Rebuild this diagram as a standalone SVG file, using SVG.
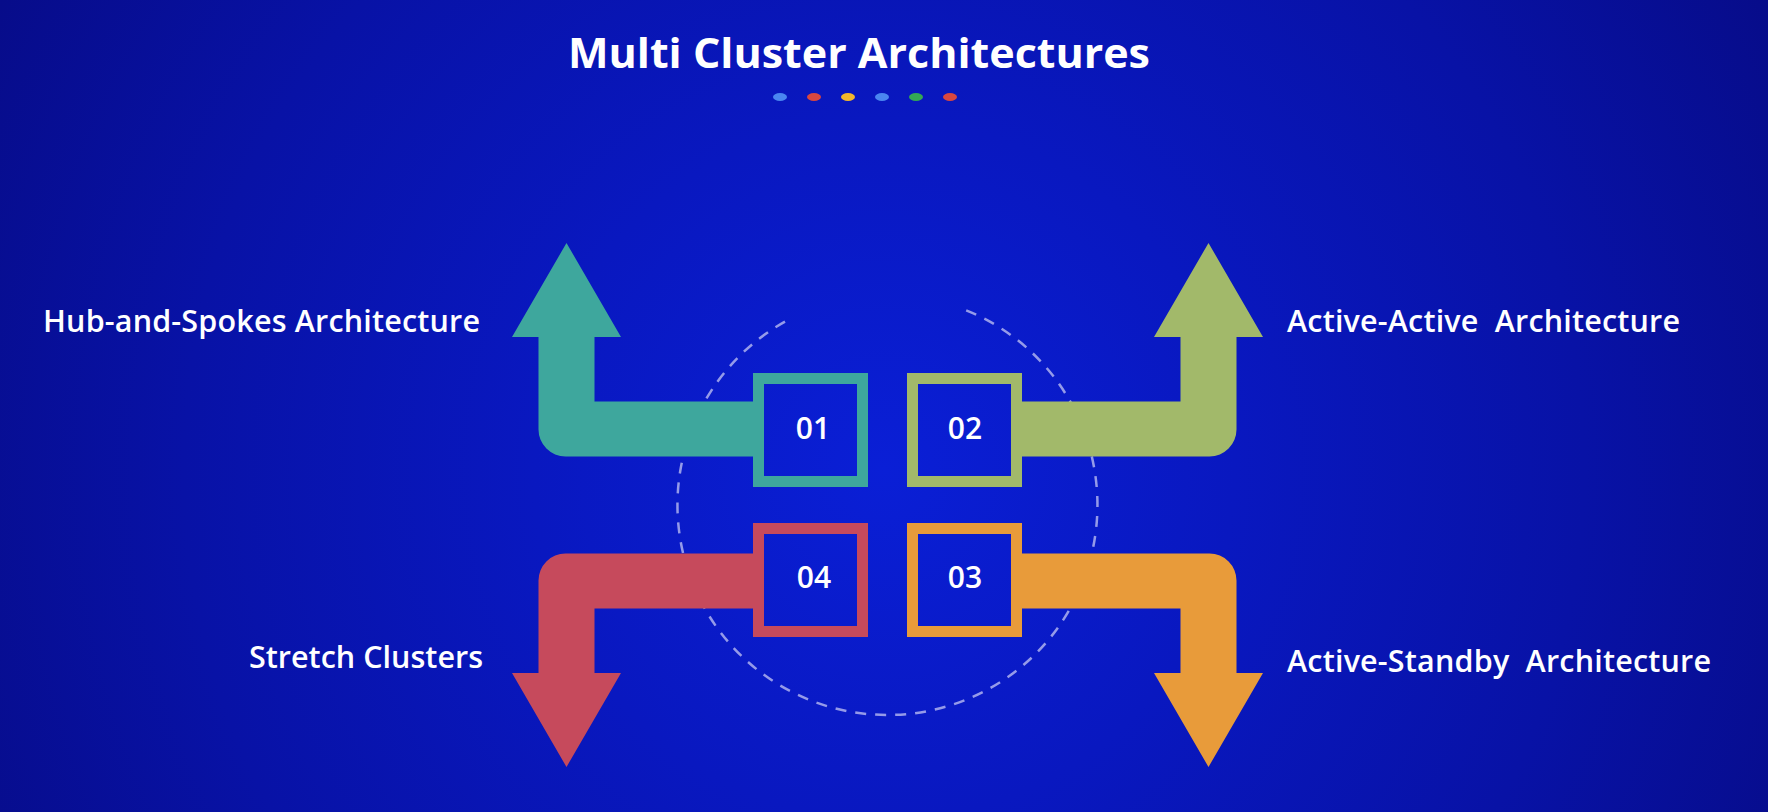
<svg xmlns="http://www.w3.org/2000/svg" width="1768" height="812" viewBox="0 0 1768 812">
  <defs>
    <radialGradient id="bg" gradientUnits="userSpaceOnUse" cx="884" cy="470" r="1000">
      <stop offset="0" stop-color="#0a1fd6"/>
      <stop offset="0.35" stop-color="#0918c0"/>
      <stop offset="0.7" stop-color="#0812a6"/>
      <stop offset="1" stop-color="#070c8a"/>
    </radialGradient>
    <style>
      .title { font-family: "Open Sans", "DejaVu Sans", sans-serif; font-weight: 700; font-size: 42px; fill: #ffffff; }
      .label { font-family: "Open Sans", "DejaVu Sans", sans-serif; font-weight: 600; font-size: 30.5px; fill: #ffffff; }
      .num { font-family: "Open Sans", "DejaVu Sans", sans-serif; font-weight: 600; font-size: 30px; fill: #ffffff; text-anchor: middle; }
      .box { fill: none; stroke-width: 11; }
      .ring { fill: none; stroke: #aeb2ee; stroke-width: 2.5; stroke-dasharray: 11 9; opacity: 0.85; }
    </style>
  </defs>

  <rect x="0" y="0" width="1768" height="812" fill="url(#bg)"/>

  <g id="title">
    <text class="title" x="568" y="68" textLength="582" lengthAdjust="spacingAndGlyphs">Multi Cluster Architectures</text>
    <ellipse cx="780" cy="97" rx="7" ry="4" fill="#4a86f0"/>
    <ellipse cx="814" cy="97" rx="7" ry="4" fill="#d9473f"/>
    <ellipse cx="848" cy="97" rx="7" ry="4" fill="#f2b72c"/>
    <ellipse cx="882" cy="97" rx="7" ry="4" fill="#4a86f0"/>
    <ellipse cx="916" cy="97" rx="7" ry="4" fill="#34a853"/>
    <ellipse cx="950" cy="97" rx="7" ry="4" fill="#d9473f"/>
  </g>

  <g id="ring">
    <path class="ring" d="M966.2,310.3 A210,210 0 1 1 790.5,318.7"/>
  </g>

  <g id="connectors">
    <path id="arrow01" fill="#3ea79d" d="M753,401.5 H594.5 V337 H621 L566.5,243 L512,337 H538.5 V429.5 A27,27 0 0 0 565.5,456.5 H753 Z"/>
    <path id="arrow02" fill="#a2b96a" d="M1022,401.5 H1180.5 V337 H1154 L1208.5,243 L1263,337 H1236.5 V429.5 A27,27 0 0 1 1209.5,456.5 H1022 Z"/>
    <path id="arrow04" fill="#c64a5c" d="M753,608.5 H594.5 V673 H621 L566.5,767 L512,673 H538.5 V580.5 A27,27 0 0 1 565.5,553.5 H753 Z"/>
    <path id="arrow03" fill="#e89b3a" d="M1022,608.5 H1180.5 V673 H1154 L1208.5,767 L1263,673 H1236.5 V580.5 A27,27 0 0 0 1209.5,553.5 H1022 Z"/>
  </g>

  <g id="node01">
    <rect class="box" x="758.5" y="378.5" width="104" height="103" stroke="#3ea79d"/>
    <text class="num" x="813" y="439">01</text>
  </g>
  <g id="node02">
    <rect class="box" x="912.5" y="378.5" width="104" height="103" stroke="#a2b96a"/>
    <text class="num" x="965" y="439">02</text>
  </g>
  <g id="node04">
    <rect class="box" x="758.5" y="528.5" width="104" height="103" stroke="#c64a5c"/>
    <text class="num" x="814" y="588">04</text>
  </g>
  <g id="node03">
    <rect class="box" x="912.5" y="528.5" width="104" height="103" stroke="#e89b3a"/>
    <text class="num" x="965" y="588">03</text>
  </g>

  <g id="label01">
    <text class="label" x="43" y="332" textLength="437">Hub-and-Spokes Architecture</text>
  </g>
  <g id="label02">
    <text class="label" x="1287" y="332" textLength="393" xml:space="preserve">Active-Active  Architecture</text>
  </g>
  <g id="label04">
    <text class="label" x="249" y="668" textLength="234">Stretch Clusters</text>
  </g>
  <g id="label03">
    <text class="label" x="1287" y="672" textLength="424" xml:space="preserve">Active-Standby  Architecture</text>
  </g>
</svg>
